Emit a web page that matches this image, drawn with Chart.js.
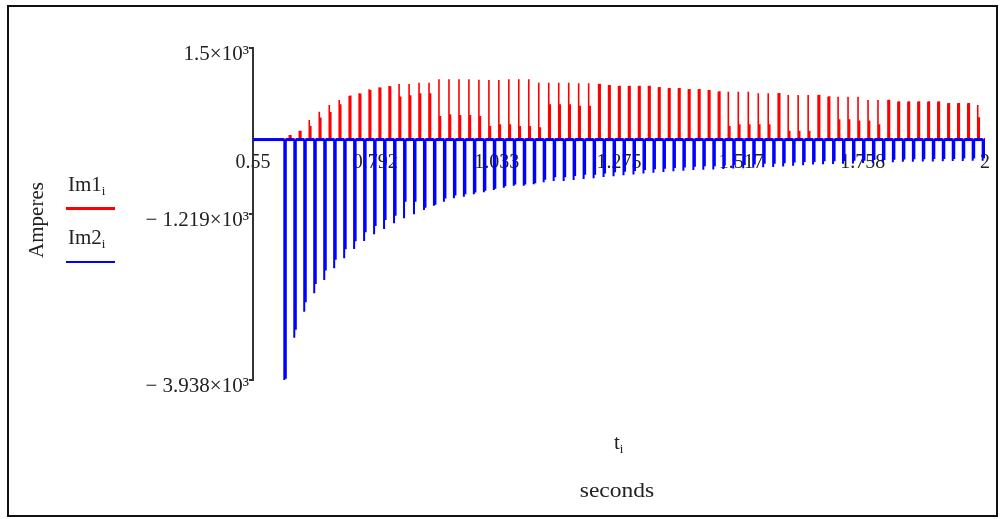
<!DOCTYPE html>
<html>
<head>
<meta charset="utf-8">
<script src="https://cdn.jsdelivr.net/npm/chart.js@4.4.1/dist/chart.umd.min.js"></script>
<style>
  body { margin: 0; background: #fff; }
  #wrap { position: relative; width: 1002px; height: 519px; overflow: hidden;
          font-family: 'Liberation Serif', 'Times New Roman', serif; color: #222; }
  #plot { position: absolute; left: 0; top: 0; }
  .frame { position: absolute; left: 7px; top: 5px; width: 991px; height: 512px;
           border: 2.5px solid #111; box-sizing: border-box; }
  .lbl { position: absolute; font-size: 21px; line-height: 1; white-space: nowrap; }
  .lbl sub { font-size: 13px; vertical-align: -4px; }
  .key { position: absolute; left: 66px; width: 49px; }
</style>
</head>
<body>
<div id="wrap">
  <canvas id="plot" width="1002" height="519"></canvas>
  <div class="frame"></div>
  <div class="lbl" style="left:36px;top:220px;transform:translate(-50%,-50%) rotate(-90deg)">Amperes</div>
  <div class="lbl" style="left:68px;top:174px">Im1<sub>i</sub></div>
  <div class="key" style="top:207px;height:3px;background:#f00"></div>
  <div class="lbl" style="left:68px;top:227px">Im2<sub>i</sub></div>
  <div class="key" style="top:261px;height:2px;background:#00f"></div>
  <div class="lbl" style="left:614px;top:432px">t<sub>i</sub></div>
  <div class="lbl" style="left:617px;top:480px;transform:translateX(-50%) scaleX(1.12)">seconds</div>
</div>
<script>
const xMin = 0.55, xMax = 2;
const yMin = -3938, yMax = 1500;
const xTicks = [0.55, 0.792, 1.033, 1.275, 1.517, 1.758, 2];
const xTickLabels = ['0.55', '0.792', '1.033', '1.275', '1.517', '1.758', '2'];
const yTicks = [-3938, -1219, 1500];
const yTickLabels = ['\u2212 3.938\u00d710\u00b3', '\u2212 1.219\u00d710\u00b3', '1.5\u00d710\u00b3'];

// one pulse per 50 Hz cycle (seconds)
const cycleTimes = [
  0.6120, 0.6318, 0.6515, 0.6713, 0.6911, 0.7108, 0.7306, 0.7503, 0.7701, 0.7899,
  0.8096, 0.8294, 0.8492, 0.8689, 0.8887, 0.9084, 0.9282, 0.9480, 0.9677, 0.9875,
  1.0073, 1.0270, 1.0468, 1.0665, 1.0863, 1.1061, 1.1258, 1.1456, 1.1654, 1.1851,
  1.2049, 1.2247, 1.2444, 1.2642, 1.2839, 1.3037, 1.3235, 1.3432, 1.3630, 1.3828,
  1.4025, 1.4223, 1.4420, 1.4618, 1.4816, 1.5013, 1.5211, 1.5409, 1.5606, 1.5804,
  1.6002, 1.6199, 1.6397, 1.6594, 1.6792, 1.6990, 1.7187, 1.7385, 1.7583, 1.7780,
  1.7978, 1.8175, 1.8373, 1.8571, 1.8768, 1.8966, 1.9164, 1.9361, 1.9559, 1.9756,
  1.9954
];

// Im1 (red): tip and lower thick part of each pulse, amperes
const im1Peak = [
  60, 130, 321, 457, 567, 649, 714, 758, 824, 857,
  878, 911, 911, 932, 932, 988, 988, 988, 988, 980,
  976, 976, 988, 988, 988, 932, 932, 932, 932, 922,
  922, 911, 894, 878, 878, 878, 878, 857, 840, 840,
  824, 824, 812, 785, 785, 785, 785, 758, 758, 758,
  730, 730, 730, 730, 703, 703, 703, 703, 649, 649,
  649, 621, 621, 621, 621, 621, 594, 594, 594, 567
];
const im1Shoulder = [
  60, 130, 211, 348, 440, 567, 707, 740, 800, 840,
  860, 692, 714, 747, 747, 375, 403, 390, 390, 375,
  211, 239, 239, 211, 211, 190, 567, 567, 567, 539,
  539, 900, 880, 870, 870, 870, 870, 850, 830, 830,
  815, 815, 800, 780, 211, 240, 240, 240, 240, 750,
  130, 130, 130, 720, 695, 321, 321, 300, 300, 240,
  640, 615, 615, 615, 615, 615, 585, 585, 585, 354
];

// Im2 (blue)
const im2Peak = [
  -3938, -3245, -2819, -2518, -2300, -2108, -1944, -1792, -1661, -1551, -1464, -1371,
  -1290, -1224, -1153, -1083, -1017, -962, -935, -896, -863, -826,
  -788, -755, -755, -732, -700, -678, -678, -662, -645, -634,
  -615, -600, -585, -570, -555, -545, -530, -520, -510, -500,
  -495, -490, -480, -475, -470, -460, -455, -450, -440,
  -430, -420, -410, -405, -400, -395, -390, -385, -380, -375,
  -370, -365, -362, -360, -358, -355, -352, -350, -348, -345
];
const im2Shoulder = [
  -3900, -3100, -2650, -2350, -2130, -1950, -1780, -1650, -1500, -1400, -1300, -1230,
  -1000, -1000, -1100, -1050, -950, -900, -880, -850, -820, -790,
  -750, -720, -720, -700, -640, -600, -600, -580, -560, -560,
  -540, -520, -510, -500, -480, -470, -460, -450, -440, -430,
  -420, -420, -410, -400, -400, -390, -380, -380, -370,
  -360, -350, -350, -340, -340, -335, -330, -330, -320, -320,
  -315, -310, -305, -305, -300, -300, -300, -295, -295, -290
];

const im1Lag = 0.01;      // red pulses sit a little after the blue ones
const pulseWidth = 0.003;

function pulses(peaks, shoulders, lag) {
  const pts = [{x: xMin, y: 0}];
  peaks.forEach((a, k) => {
    const t = cycleTimes[k] + lag;
    // straight up to the tip, then the thicker lower part beside it
    pts.push({x: t, y: 0}, {x: t, y: a}, {x: t, y: shoulders[k]},
             {x: t + pulseWidth, y: shoulders[k]}, {x: t + pulseWidth, y: 0});
  });
  pts.push({x: xMax, y: 0});
  return pts;
}

const serif = "'Liberation Serif', 'Times New Roman', serif";
const flat = w => c => (c.p0.parsed.y === 0 && c.p1.parsed.y === 0) ? w : undefined;

new Chart(document.getElementById('plot'), {
  type: 'scatter',
  data: {
    datasets: [
      { label: 'Im2', data: pulses(im2Peak, im2Shoulder, 0), showLine: true, pointRadius: 0,
        borderColor: '#0000ff', borderWidth: 2, tension: 0, segment: { borderWidth: flat(3) } },
      { label: 'Im1', data: pulses(im1Peak, im1Shoulder, im1Lag), showLine: true, pointRadius: 0,
        borderColor: '#ff0000', borderWidth: 1.6, tension: 0, segment: { borderWidth: flat(2) } }
    ]
  },
  options: {
    responsive: false,
    animation: false,
    events: [],
    layout: { padding: { left: 8, top: 48, right: 17, bottom: 139 } },
    plugins: { legend: { display: false }, tooltip: { enabled: false } },
    scales: {
      x: {
        type: 'linear', position: { y: 0 }, min: xMin, max: xMax,
        afterBuildTicks: s => { s.ticks = xTicks.map(v => ({ value: v })); },
        afterFit: s => { s.paddingLeft = 0; s.paddingRight = 0; },
        grid: { display: false, drawTicks: false },
        border: { display: false },
        ticks: { autoSkip: false, maxRotation: 0, padding: 11, color: '#222',
                 font: { family: serif, size: 20 }, callback: (v, i) => xTickLabels[i] }
      },
      y: {
        type: 'linear', position: 'left', min: yMin, max: yMax,
        afterBuildTicks: s => { s.ticks = yTicks.map(v => ({ value: v })); },
        afterFit: s => { s.width = 245; s.paddingTop = 0; s.paddingBottom = 0; },
        grid: { drawOnChartArea: false, drawTicks: true, tickLength: 4, color: '#333', lineWidth: 2 },
        border: { display: true, color: '#333', width: 2 },
        ticks: { padding: 0, labelOffset: 6, color: '#222',
                 font: { family: serif, size: 21 }, callback: (v, i) => yTickLabels[i] }
      }
    }
  }
});
</script>
</body>
</html>
